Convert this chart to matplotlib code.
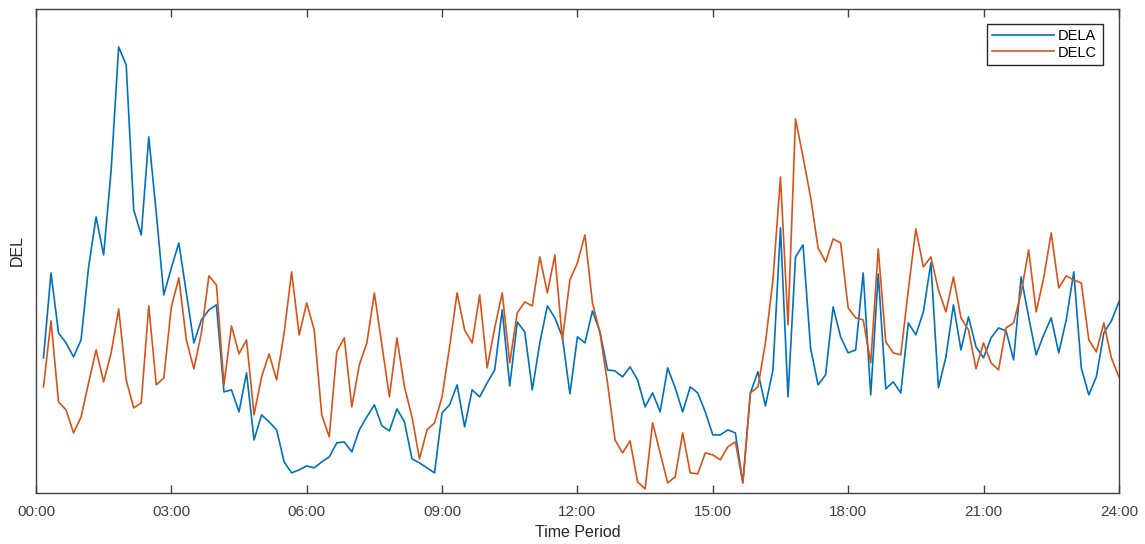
import numpy as np
import matplotlib
matplotlib.use("Agg")
import matplotlib.pyplot as plt

plt.rcParams['font.family'] = ['Liberation Sans', 'DejaVu Sans']

# samples every 10 minutes, 00:10 .. 24:00
minutes = np.arange(10, 1441, 10)
hours = minutes / 60.0

dela = [135, 220, 160, 150, 136, 153, 226, 276, 238, 323, 446, 428, 283, 258, 356, 280, 198, 225,
        250, 200, 150, 173, 183, 188, 101, 103, 81, 120, 53, 78, 71, 63, 31, 20, 23, 27,
        25, 31, 36, 50, 51, 41, 63, 76, 88, 67, 62, 84, 71, 34, 30, 25, 20, 80,
        88, 108, 66, 103, 96, 110, 123, 183, 107, 171, 161, 103, 150, 187, 175, 156, 99, 156,
        150, 182, 161, 123, 122, 116, 126, 113, 86, 100, 81, 125, 105, 81, 106, 100, 81, 58,
        58, 63, 60, 10, 100, 121, 87, 123, 265, 96, 236, 248, 145, 108, 118, 186, 156, 140,
        143, 220, 98, 219, 104, 111, 100, 170, 158, 181, 230, 105, 136, 188, 143, 176, 146, 135,
        155, 165, 162, 133, 216, 176, 138, 158, 175, 140, 173, 221, 125, 98, 116, 160, 172, 191]

delc = [106, 172, 91, 83, 60, 76, 110, 143, 111, 140, 184, 113, 85, 90, 187, 108, 115, 186,
        215, 153, 124, 160, 217, 208, 108, 167, 139, 153, 78, 116, 139, 113, 160, 221, 158, 190,
        163, 78, 56, 141, 155, 86, 128, 150, 200, 148, 96, 155, 106, 76, 34, 63, 70, 96,
        146, 200, 163, 150, 198, 125, 165, 200, 130, 180, 191, 187, 236, 200, 238, 153, 213, 230,
        258, 190, 160, 110, 53, 40, 52, 11, 4, 70, 40, 10, 16, 60, 20, 19, 40, 38,
        33, 46, 51, 10, 100, 106, 150, 213, 316, 168, 374, 336, 296, 245, 231, 254, 250, 185,
        175, 173, 130, 244, 151, 140, 138, 203, 264, 226, 236, 203, 181, 216, 175, 163, 124, 150,
        130, 123, 165, 170, 200, 243, 181, 215, 260, 205, 217, 213, 210, 153, 141, 170, 135, 116]

tick_hours = [0, 3, 6, 9, 12, 15, 18, 21, 24]
tick_labels = ['00:00', '03:00', '06:00', '09:00', '12:00', '15:00', '18:00', '21:00', '24:00']

fig = plt.figure(figsize=(11.45, 5.44), dpi=100)
ax = fig.add_axes([0.0314, 0.094, 0.9458, 0.8895])

ax.plot(hours, dela, color='#0072BD', lw=1.2, label='DELA')
ax.plot(hours, delc, color='#D95319', lw=1.2, label='DELC')

ax.set_xlim(0, 24)
ax.set_ylim(0, 484)
ax.set_xticks(tick_hours)
ax.set_xticklabels(tick_labels)
ax.set_yticks([])
ax.tick_params(axis='x', direction='in', top=True, length=6, width=1,
               labelsize=11, colors='#404040', pad=9)
for sp in ax.spines.values():
    sp.set_color('#404040')
    sp.set_linewidth(1)

ax.set_xlabel('Time Period', fontsize=11.5, color='#262626', labelpad=4)
ax.set_ylabel('DEL', fontsize=11.5, color='#262626', labelpad=8)

leg = ax.legend(loc='upper right', fontsize=10.5, handlelength=4.2, handletextpad=0.3,
                borderpad=0.4, labelspacing=0.15, fancybox=False, framealpha=1,
                bbox_to_anchor=(0.992, 0.985))
leg.get_frame().set_edgecolor('#262626')
leg.get_frame().set_linewidth(1)

fig.savefig('out.png', dpi=100)
